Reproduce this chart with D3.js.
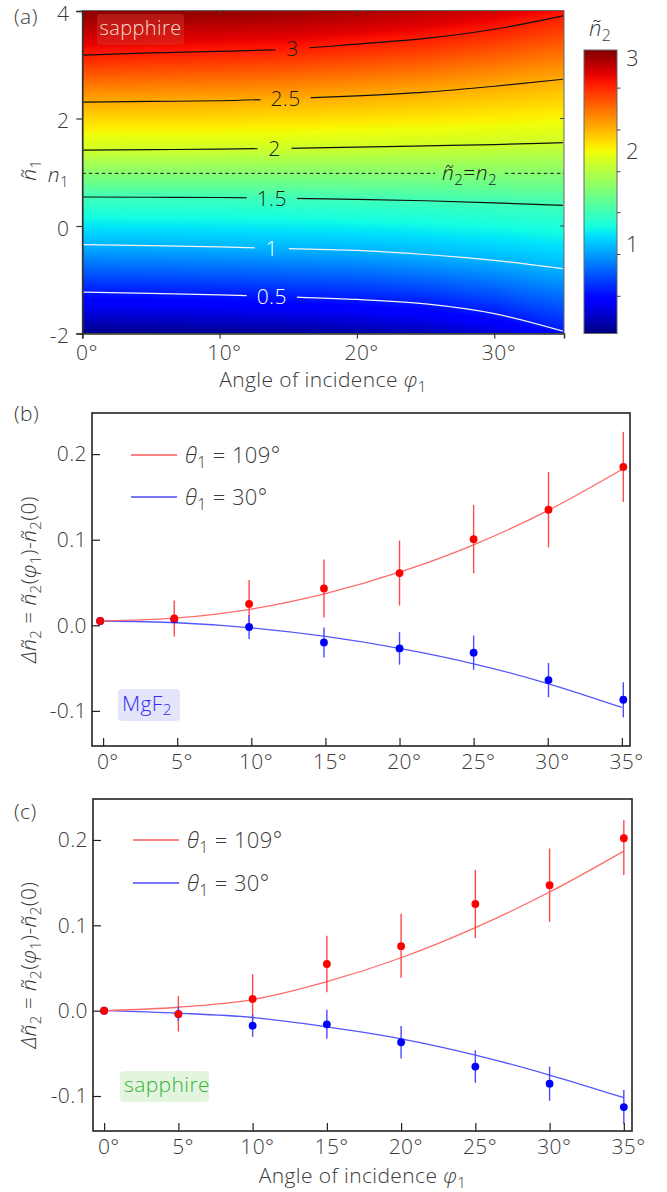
<!DOCTYPE html>
<html>
<head>
<meta charset="utf-8">
<script src="https://cdn.jsdelivr.net/npm/d3@7"></script>
<style>
body { margin: 0; background: #fff; }
svg text { font-family: 'Open Sans', 'Segoe UI', sans-serif; font-weight: 300; letter-spacing: 0.4px; }
</style>
</head>
<body>
<svg width="667" height="1192"></svg>
<script>
// ---------- data: panel (a), contour positions (n1~ at each angle)
const phiGrid = [0, 5, 10, 15, 20, 25, 30, 35];
const contourLevels = [0.5, 1, 1.5, 2, 2.5, 3];
const contourLabels = ["0.5", "1", "1.5", "2", "2.5", "3"];
const contourLabelPhi = [13.8, 13.8, 13.8, 14.0, 14.8, 15.3];
// apparent colour value at each contour
const contourColorValues = [0.48, 0.95, 1.33, 1.86, 2.25, 2.72];
const c05 = [-1.23, -1.255, -1.28, -1.32, -1.366, -1.45, -1.63, -1.957];
const c10 = [-0.347, -0.365, -0.39, -0.42, -0.453, -0.53, -0.64, -0.794];
const c15 = [0.54, 0.535, 0.53, 0.515, 0.497, 0.47, 0.43, 0.385];
const c20 = [1.41, 1.42, 1.43, 1.445, 1.466, 1.49, 1.515, 1.55];
const c25 = [2.305, 2.318, 2.33, 2.37, 2.42, 2.49, 2.60, 2.73];
const c30 = [3.18, 3.22, 3.25, 3.29, 3.385, 3.49, 3.66, 3.91];
const edgeTop = [3.05, 3.05, 3.04, 3.02, 2.98, 2.93, 2.86, 2.76];     // colour value at n1~ = 4
const edgeBottom = [0.06, 0.07, 0.08, 0.1, 0.13, 0.17, 0.25, 0.38];   // colour value at n1~ = -2
const n1Value = 0.98;
const yTicksA = [-2, 0, 2, 4];
const xTicksA = [0, 10, 20, 30];
const cbDomain = [0.03, 3.08];
const cbTicksMajor = [1, 2, 3];
const cbTicksMinor = [0.43, 0.88, 1.33, 1.77, 2.22, 2.67];

// ---------- data: panel (b) MgF2
const phiB = [-0.2, 4.8, 9.85, 14.9, 20.0, 25.0, 30.05, 35.1];
const redB = [0.005, 0.008, 0.025, 0.043, 0.061, 0.1006, 0.135, 0.185];
const redErrB = [0, 0.021, 0.028, 0.034, 0.038, 0.04, 0.044, 0.041];
const blueB = [0.005, 0.007, -0.002, -0.020, -0.027, -0.032, -0.064, -0.087];
const blueErrB = [0, 0, 0.014, 0.0175, 0.019, 0.02, 0.02, 0.0205];
const phiFitB = [-0.2, 5, 10, 15, 20, 25, 30, 35];
const redFitB = [0.005, 0.0086, 0.019, 0.037, 0.062, 0.094, 0.134, 0.182];
const blueFitB = [0.005, 0.003, -0.003, -0.013, -0.027, -0.045, -0.068, -0.096];

// ---------- data: panel (c) sapphire
const phiC = [0, 5, 10, 15, 20, 25, 30, 35];
const redC = [0.0, -0.004, 0.0137, 0.0547, 0.0755, 0.125, 0.147, 0.202];
const redErrLoC = [0, 0.0205, 0.029, 0.033, 0.037, 0.04, 0.043, 0.043];
const redErrHiC = [0, 0.021, 0.029, 0.033, 0.038, 0.04, 0.043, 0.0215];
const blueC = [0.0, -0.004, -0.0176, -0.016, -0.037, -0.0655, -0.0855, -0.113];
const blueErrC = [0, 0.008, 0.013, 0.017, 0.019, 0.019, 0.02, 0.02];
const phiFitC = [0, 5, 10, 15, 20, 25, 30, 35];
const redFitC = [0.0, 0.004, 0.013, 0.034, 0.062, 0.0973, 0.139, 0.187];
const blueFitC = [0.0, -0.003, -0.008, -0.019, -0.033, -0.052, -0.0754, -0.102];

const degTicks = [0, 5, 10, 15, 20, 25, 30, 35];
const yTicksBC = [-0.1, 0.0, 0.1, 0.2];

const TXT = "#3a3a3a";
const FS = 21;
const svg = d3.select("svg");

// rich text: parts = [[text, flags]] flags: i = italic, b = subscript
function rich(sel, parts, shift) {
    let cur = 0;
    parts.forEach(([t, f = ""]) => {
        const ts = sel.append("tspan").text(t);
        if (f.includes("i")) ts.attr("font-style", "italic");
        const want = f.includes("b") ? shift : 0;
        if (want !== cur) { ts.attr("dy", want - cur); cur = want; }
        if (f.includes("b")) ts.attr("font-size", "72%");
    });
    return sel;
}

// jet colormap
const jetR = d3.scaleLinear().domain([0, 0.35, 0.66, 0.89, 1]).range([0, 0, 1, 1, 0.5]).clamp(true);
const jetG = d3.scaleLinear().domain([0, 0.125, 0.375, 0.64, 0.91, 1]).range([0, 0, 1, 1, 0, 0]).clamp(true);
const jetB = d3.scaleLinear().domain([0, 0.11, 0.34, 0.65, 1]).range([0.5, 1, 1, 0, 0]).clamp(true);
const cbNorm = d3.scaleLinear().domain(cbDomain).range([0, 1]).clamp(true);
function jet(v) {
    const t = cbNorm(v);
    return [jetR(t) * 255, jetG(t) * 255, jetB(t) * 255];
}

// ================= panel (a)
const xA = d3.scaleLinear().domain([0, 35.08]).range([82.3, 564]);
const yA = d3.scaleLinear().domain([-2, 4]).range([333.5, 11]);
const contours = [c05, c10, c15, c20, c25, c30];
const colInterp = contours.map(c => d3.scaleLinear().domain(phiGrid).range(c));
const topInterp = d3.scaleLinear().domain(phiGrid).range(edgeTop);
const botInterp = d3.scaleLinear().domain(phiGrid).range(edgeBottom);

const px0 = 82, px1 = 564, py0 = 10, py1 = 334;
const canvas = document.createElement("canvas");
canvas.width = px1 - px0; canvas.height = py1 - py0;
const ctx = canvas.getContext("2d");
const img = ctx.createImageData(canvas.width, canvas.height);
for (let i = 0; i < canvas.width; i++) {
    const phi = Math.max(0, Math.min(35, xA.invert(px0 + i + 0.5)));
    const knots = [-2].concat(colInterp.map(f => f(phi)), [4]);
    const vals = [botInterp(phi)].concat(contourColorValues, [topInterp(phi)]);
    const f = d3.scaleLinear().domain(knots).range(vals);
    for (let j = 0; j < canvas.height; j++) {
        const c = jet(f(yA.invert(py0 + j + 0.5)));
        const k = (j * canvas.width + i) * 4;
        img.data[k] = c[0]; img.data[k + 1] = c[1]; img.data[k + 2] = c[2]; img.data[k + 3] = 255;
    }
}
ctx.putImageData(img, 0, 0);
svg.append("image").attr("x", px0).attr("y", py0)
    .attr("width", canvas.width).attr("height", canvas.height)
    .attr("preserveAspectRatio", "none")
    .attr("href", canvas.toDataURL());

const gA = svg.append("g");
// contour labels first so the gaps can be measured
const labelSel = gA.append("g").selectAll("text").data(contourLevels).join("text")
    .attr("x", (d, i) => xA(contourLabelPhi[i]))
    .attr("y", (d, i) => yA(colInterp[i](contourLabelPhi[i])))
    .attr("dy", "0.36em")
    .attr("text-anchor", "middle")
    .attr("font-size", FS)
    .attr("fill", d => d < 1.25 ? "#fff" : "#1a1a1a")
    .text((d, i) => contourLabels[i]);

const n1Label = gA.append("text")
    .attr("x", xA(28.2)).attr("y", yA(n1Value)).attr("dy", "0.32em")
    .attr("text-anchor", "middle").attr("font-size", FS).attr("fill", "#1a1a1a");
rich(n1Label, [["ñ", "i"], ["2", "b"], ["=", ""], ["n", "i"], ["2", "b"]], 5);

const mask = svg.append("defs").append("mask").attr("id", "cmask");
mask.append("rect").attr("x", 0).attr("y", 0).attr("width", 667).attr("height", 400).attr("fill", "#fff");
labelSel.each(function (d, i) {
    const w = Math.max(this.getComputedTextLength() + 20, 34);
    mask.append("rect").attr("x", xA(contourLabelPhi[i]) - w / 2).attr("y", yA(colInterp[i](contourLabelPhi[i])) - 12)
        .attr("width", w).attr("height", 24).attr("fill", "#000");
});
{
    const w = n1Label.node().getComputedTextLength() + 14;
    mask.append("rect").attr("x", xA(28.2) - w / 2).attr("y", yA(n1Value) - 12)
        .attr("width", w).attr("height", 24).attr("fill", "#000");
}

const lineA = d3.line().x(d => xA(d[0])).y(d => yA(d[1])).curve(d3.curveMonotoneX);
const linesG = gA.insert("g", ":first-child").attr("mask", "url(#cmask)");
contours.forEach((c, i) => {
    linesG.append("path")
        .attr("d", lineA(phiGrid.map((p, k) => [p, c[k]])))
        .attr("fill", "none")
        .attr("stroke", contourLevels[i] < 1.25 ? "#f4f4f4" : "#111")
        .attr("stroke-width", 1.2);
});
linesG.append("line")
    .attr("x1", xA(0)).attr("x2", xA(35.08))
    .attr("y1", yA(n1Value)).attr("y2", yA(n1Value))
    .attr("stroke", "#111").attr("stroke-width", 1).attr("stroke-dasharray", "3.5,3");

// frame + mirrored ticks
gA.append("rect").attr("x", 82.3).attr("y", 10.5).attr("width", 564 - 82.3).attr("height", 323)
    .attr("fill", "none").attr("stroke", "#666").attr("stroke-width", 1);
xTicksA.forEach(t => gA.append("line").attr("x1", xA(t)).attr("x2", xA(t)).attr("y1", 10.5).attr("y2", 14.5)
    .attr("stroke", "#444").attr("stroke-width", 1));
[0, 2].forEach(t => gA.append("line").attr("x1", 564).attr("x2", 560).attr("y1", yA(t)).attr("y2", yA(t))
    .attr("stroke", "#444").attr("stroke-width", 1));

const axLA = gA.append("g").attr("transform", "translate(82.3,0)")
    .call(d3.axisLeft(yA).tickValues(yTicksA).tickSize(6).tickPadding(7).tickFormat(d3.format("d")));
const axBA = gA.append("g").attr("transform", "translate(0,333.5)")
    .call(d3.axisBottom(xA).tickValues(xTicksA).tickSize(5).tickPadding(7).tickFormat(d => d + "°"));
[axLA, axBA].forEach(a => {
    a.attr("font-size", FS).attr("font-family", null).attr("color", TXT);
    a.select(".domain").attr("stroke", "#333").attr("stroke-width", 1.6);
    a.selectAll(".tick line").attr("stroke", "#333").attr("stroke-width", 1.2);
});
axLA.selectAll(".tick text").attr("dy", "0.45em").text(d => d < 0 ? "-" + Math.abs(d) : d);
axBA.selectAll(".tick text").attr("dx", "0.2em");

const n1Tick = gA.append("text").attr("x", 69).attr("y", yA(n1Value)).attr("dy", "0.4em")
    .attr("text-anchor", "end").attr("font-size", FS).attr("fill", TXT);
rich(n1Tick, [["n", "i"], ["1", "b"]], 5);

rich(gA.append("text").attr("transform", "translate(36,170) rotate(-90)")
    .attr("text-anchor", "middle").attr("font-size", FS).attr("fill", TXT),
    [["ñ", "i"], ["1", "b"]], 5);

rich(gA.append("text").attr("x", 323).attr("y", 387).attr("text-anchor", "middle")
    .attr("font-size", FS).attr("fill", TXT),
    [["Angle of incidence ", ""], ["φ", "i"], ["1", "b"]], 5);

svg.append("text").attr("x", 14).attr("y", 24).attr("font-size", FS).attr("fill", TXT).text("(a)");

// sapphire tag
gA.append("rect").attr("x", 97).attr("y", 14).attr("width", 87).attr("height", 31).attr("rx", 3)
    .attr("fill", "#d4382a").attr("fill-opacity", 0.45);
gA.append("text").attr("x", 99.5).attr("y", 35).attr("font-size", 20).attr("fill", "#f6dcd4").text("sapphire");

// colorbar
const yCb = d3.scaleLinear().domain(cbDomain).range([333.5, 50]);
const grad = svg.select("defs").append("linearGradient").attr("id", "cbgrad")
    .attr("x1", 0).attr("y1", 1).attr("x2", 0).attr("y2", 0);
d3.range(0, 1.0001, 0.02).forEach(t => {
    const c = jet(cbDomain[0] + t * (cbDomain[1] - cbDomain[0]));
    grad.append("stop").attr("offset", t).attr("stop-color", d3.rgb(c[0], c[1], c[2]));
});
svg.append("rect").attr("x", 584).attr("y", 50).attr("width", 33).attr("height", 283.5)
    .attr("fill", "url(#cbgrad)").attr("stroke", "#666").attr("stroke-width", 1);
cbTicksMinor.forEach(t => svg.append("line").attr("x1", 617).attr("x2", 620.5)
    .attr("y1", yCb(t)).attr("y2", yCb(t)).attr("stroke", "#444").attr("stroke-width", 1));
cbTicksMajor.forEach(t => svg.append("text").attr("x", 626).attr("y", yCb(t)).attr("dy", "0.4em")
    .attr("font-size", 22).attr("fill", TXT).text(t));
rich(svg.append("text").attr("x", 600).attr("y", 36).attr("text-anchor", "middle")
    .attr("font-size", 22).attr("fill", TXT), [["ñ", "i"], ["2", "b"]], 5);

// ================= panels (b) and (c)
function drawPanel(p) {
    const x = d3.scaleLinear().domain([-0.75, 35.55]).range([p.left, p.right]);
    const y = d3.scaleLinear().domain([-0.141, 0.248]).range([p.bottom, p.top]);
    const g = svg.append("g");
    const line = d3.line().x(d => x(d[0])).y(d => y(d[1])).curve(d3.curveMonotoneX);

    // tag box
    g.append("rect").attr("x", p.tag.x).attr("y", p.tag.y).attr("width", p.tag.w).attr("height", p.tag.h)
        .attr("rx", 4).attr("fill", p.tag.bg);
    const tagText = g.append("text").attr("x", p.tag.x + 4).attr("y", p.tag.y + p.tag.h - 10)
        .attr("font-size", FS).attr("fill", p.tag.color);
    rich(tagText, p.tag.parts, 4);

    // fits
    g.append("path").attr("d", line(p.phiFit.map((d, i) => [d, p.blueFit[i]])))
        .attr("fill", "none").attr("stroke", "#5555ff").attr("stroke-width", 1.3);
    g.append("path").attr("d", line(p.phiFit.map((d, i) => [d, p.redFit[i]])))
        .attr("fill", "none").attr("stroke", "#ff6a6a").attr("stroke-width", 1.3);

    // error bars
    const bars = (phi, vals, lo, hi, col) => g.append("g").selectAll("line").data(vals).join("line")
        .attr("x1", (d, i) => x(phi[i])).attr("x2", (d, i) => x(phi[i]))
        .attr("y1", (d, i) => y(d - lo[i])).attr("y2", (d, i) => y(d + hi[i]))
        .attr("stroke", col).attr("stroke-width", 1.4);
    bars(p.phi, p.red, p.redLo, p.redHi, "#ff4a4a");
    bars(p.phi, p.blue, p.blueLo, p.blueHi, "#4a4aff");

    // points
    const pts = (phi, vals, col) => g.append("g").selectAll("circle").data(vals).join("circle")
        .attr("cx", (d, i) => x(phi[i])).attr("cy", d => y(d)).attr("r", 3.9).attr("fill", col);
    pts(p.phi, p.blue, "#0000ff");
    pts(p.phi, p.red, "#ff0000");

    // legend
    const leg = [["#ff5a5a", "109°"], ["#4a4aff", "30°"]];
    leg.forEach(([col, txt], i) => {
        const ly = p.legY[i];
        g.append("line").attr("x1", p.legX).attr("x2", p.legX + 46).attr("y1", ly).attr("y2", ly)
            .attr("stroke", col).attr("stroke-width", 1.3);
        rich(g.append("text").attr("x", p.legX + 54).attr("y", ly).attr("dy", "0.38em")
            .attr("font-size", 22).attr("fill", TXT),
            [["θ", "i"], ["1", "b"], [" = " + txt, ""]], 5);
    });

    // axes
    const axL = g.append("g").attr("transform", `translate(${p.left},0)`)
        .call(d3.axisLeft(y).tickValues(yTicksBC).tickSizeInner(-8).tickSizeOuter(0).tickPadding(5)
            .tickFormat(d3.format(".1f")));
    const axB = g.append("g").attr("transform", `translate(0,${p.bottom})`)
        .call(d3.axisBottom(x).tickValues(degTicks).tickSizeInner(-8).tickSizeOuter(0).tickPadding(8)
            .tickFormat(d => d + "°"));
    [axL, axB].forEach(a => {
        a.attr("font-size", FS).attr("font-family", null).attr("color", TXT);
        a.select(".domain").remove();
        a.selectAll(".tick line").attr("stroke", "#222").attr("stroke-width", 1.2);
    });
    axL.selectAll(".tick text").text(d => d < 0 ? "-" + Math.abs(d).toFixed(1) : d.toFixed(1));
    axB.selectAll(".tick text").attr("dx", "0.2em");

    g.append("rect").attr("x", p.left).attr("y", p.top).attr("width", p.right - p.left)
        .attr("height", p.bottom - p.top).attr("fill", "none").attr("stroke", "#222").attr("stroke-width", 1.6);

    // y label
    rich(g.append("text").attr("transform", `translate(36,${(p.top + p.bottom) / 2}) rotate(-90)`)
        .attr("text-anchor", "middle").attr("font-size", FS).attr("fill", TXT),
        [["Δ", "i"], ["ñ", "i"], ["2", "b"], [" = ", ""], ["ñ", "i"], ["2", "b"], ["(", ""], ["φ", "i"], ["1", "b"],
         [")-", ""], ["ñ", "i"], ["2", "b"], ["(0)", ""]], 5);

    svg.append("text").attr("x", 14).attr("y", p.labelY).attr("font-size", FS).attr("fill", TXT).text(p.label);
    if (p.title) {
        rich(g.append("text").attr("x", (p.left + p.right) / 2).attr("y", p.titleY).attr("text-anchor", "middle")
            .attr("font-size", FS).attr("fill", TXT),
            [["Angle of incidence ", ""], ["φ", "i"], ["1", "b"]], 5);
    }
}

drawPanel({
    left: 92, right: 630, top: 413, bottom: 746,
    phi: phiB, red: redB, redLo: redErrB, redHi: redErrB,
    blue: blueB, blueLo: blueErrB, blueHi: blueErrB,
    phiFit: phiFitB, redFit: redFitB, blueFit: blueFitB,
    legX: 131, legY: [455, 497],
    tag: {x: 118, y: 689, w: 62, h: 32, bg: "#e4e4fb", color: "#2f2fee", parts: [["MgF", ""], ["2", "b"]]},
    label: "(b)", labelY: 421
});

drawPanel({
    left: 93, right: 632, top: 799, bottom: 1131,
    phi: phiC, red: redC, redLo: redErrLoC, redHi: redErrHiC,
    blue: blueC, blueLo: blueErrC, blueHi: blueErrC,
    phiFit: phiFitC, redFit: redFitC, blueFit: blueFitC,
    legX: 133, legY: [840, 883],
    tag: {x: 120, y: 1071, w: 89, h: 31, bg: "#e3f4df", color: "#33b533", parts: [["sapphire", ""]]},
    label: "(c)", labelY: 819,
    title: true, titleY: 1183
});
</script>
</body>
</html>
